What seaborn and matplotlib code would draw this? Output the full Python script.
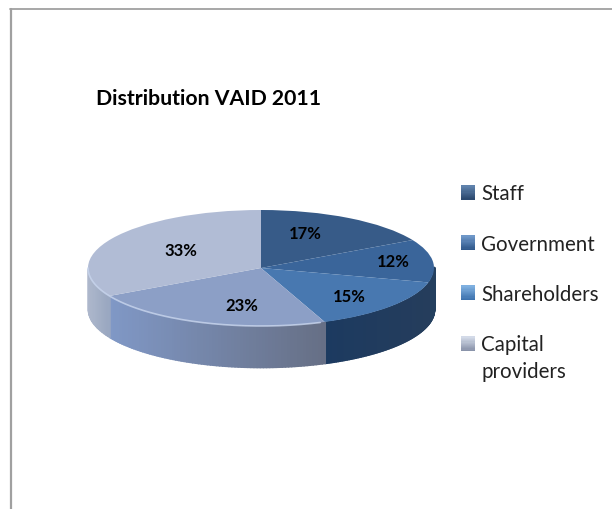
import numpy as np
import matplotlib
matplotlib.use("Agg")
import matplotlib.pyplot as plt
from matplotlib.colors import LinearSegmentedColormap, to_rgb
from matplotlib.lines import Line2D
from matplotlib.patches import Rectangle
from matplotlib.legend_handler import HandlerBase
import seaborn as sns

categories = ["Staff", "Government", "Shareholders", "Capital\nproviders"]
shares = [17, 12, 15, 23, 33]
top_colors = ["#375B88", "#3A659A", "#4878B0", "#8C9FC6", "#B1BCD5"]
# Side wall shade of each slice, from its left end to its right end
wall_left = ["#24405F", "#24405F", "#1C3A60", "#8098C6", "#AEB8CC"]
wall_right = ["#24405F", "#24405F", "#253D5C", "#666F85", "#98A6C0"]
legend_light = ["#5F82AC", "#6E97C8", "#7FB0E0", "#D3DAE8"]
legend_dark = ["#2C4A70", "#31598C", "#3D72AE", "#8A94AA"]

W, H = 612, 510
CX, CY, RX, RY, DEPTH = 261, 269, 173, 58, 41

sns.set_theme(style="white")
plt.rcParams["font.family"] = ["Lato", "DejaVu Sans"]

fig = plt.figure(figsize=(W / 100, H / 100), dpi=100, facecolor="white")
ax = fig.add_axes([0, 0, 1, 1])

# Top face: a pie stretched into an ellipse by unequal axis limits
ax.pie(shares, colors=top_colors, startangle=90, counterclock=False,
       radius=1, center=(0, 0), frame=False, wedgeprops={"linewidth": 0, "zorder": 3})
ax.set_aspect("auto")
ax.set_xlim(-CX / RX, (W - CX) / RX)
ax.set_ylim((CY - H) / RY, CY / RY)
ax.axis("off")

# Side wall: thin vertical strips along the front half of the rim
depth = DEPTH / RY
bounds = 90 - np.cumsum([0] + shares) * 3.6
for i, share in enumerate(shares):
    a0, a1 = bounds[i], bounds[i + 1]
    angles = np.linspace(a0, a1, 80)
    mask = np.sin(np.radians(angles)) <= 0.02
    if mask.sum() < 2:
        continue
    angles = angles[mask]
    xs = np.cos(np.radians(angles))
    ys = np.sin(np.radians(angles))
    order = np.argsort(xs)
    xs, ys = xs[order], ys[order]
    cmap = LinearSegmentedColormap.from_list(f"wall{i}", [wall_left[i], wall_right[i]])
    span = max(xs.max() - xs.min(), 1e-6)
    for j in range(len(xs) - 1):
        col = cmap((xs[j] - xs.min()) / span)
        ax.fill_between(xs[j:j + 2], ys[j:j + 2] - depth, ys[j:j + 2],
                        facecolor=col, edgecolor=col, linewidth=1.2, zorder=2)

# Soft highlight along the front-left rim
theta = np.radians(np.linspace(180, 290, 150))
ax.plot(np.cos(theta), np.sin(theta), color="#C9D6EE", lw=1.2, alpha=0.8, zorder=4)

# Percent labels
label_pos = [(305, 234), (393, 262), (349, 297), (242, 306), (181, 251)]
for share, (px, py) in zip(shares, label_pos):
    ax.annotate(f"{share}%", xy=(px / W, 1 - py / H), xycoords="figure fraction",
                ha="center", va="center", fontsize=12, fontweight="bold",
                color="black", zorder=6)

# Chart frame: top and left edges
fig.add_artist(Line2D([10.5 / W, 10.5 / W], [0, 1 - 9.5 / H], color="#A0A0A0", lw=1.6))
fig.add_artist(Line2D([10 / W, 1], [1 - 9.5 / H] * 2, color="#A0A0A0", lw=1.3))

fig.text(96 / W, 1 - 99 / H, "Distribution VAID 2011", fontsize=15.3, fontweight="bold",
         color="black", va="center", ha="left")

# Legend swatches with a vertical shade, and their labels
LINE_STEP = 1.42

class ShadedSwatch(HandlerBase):
    def __init__(self, light, dark, extra_lines=0):
        super().__init__()
        self.light, self.dark = to_rgb(light), to_rgb(dark)
        self.extra_lines = extra_lines

    def create_artists(self, legend, orig, xd, yd, width, height, fontsize, trans):
        artists = []
        n = 12
        # Sit beside the first line of a wrapped label
        lift = self.extra_lines * 0.72 * fontsize
        for k in range(n):
            t = k / (n - 1)
            col = tuple(d + (l - d) * t for l, d in zip(self.light, self.dark))
            artists.append(Rectangle((xd, yd + lift + height * k / n), width, height / n + 0.3,
                                     facecolor=col, linewidth=0, transform=trans))
        return artists

handles = [Rectangle((0, 0), 1, 1) for _ in categories]
handler_map = {h: ShadedSwatch(l, d, c.count("\n"))
               for h, l, d, c in zip(handles, legend_light, legend_dark, categories)}
leg = ax.legend(handles, categories, handler_map=handler_map, frameon=False, fontsize=14.8,
                loc="upper left", bbox_to_anchor=(445 / W, 1 - 168 / H),
                bbox_transform=fig.transFigure,
                handlelength=0.68, handleheight=0.68, handletextpad=0.28, labelspacing=1.47,
                labelcolor="#222222", borderpad=0.3, alignment="left")
for label in leg.get_texts():
    label.set_linespacing(LINE_STEP)

fig.savefig("out.png", dpi=100, facecolor="white")
